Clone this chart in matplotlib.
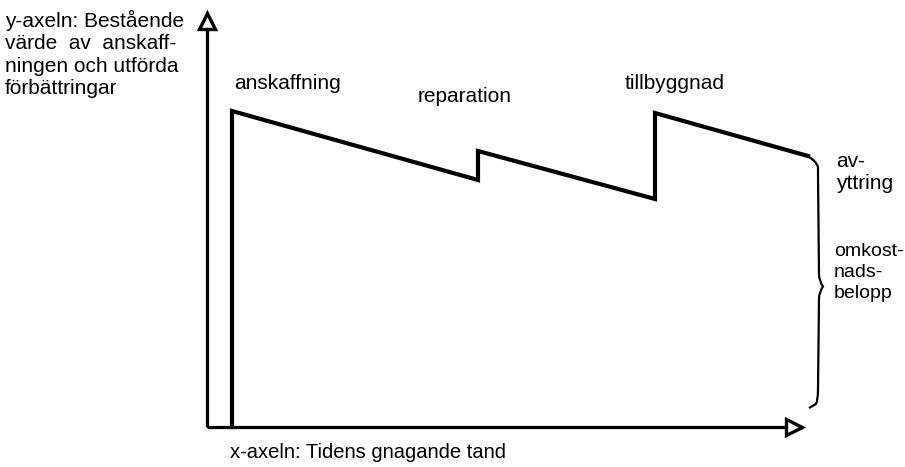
import numpy as np
import matplotlib.pyplot as plt
from matplotlib.path import Path
from matplotlib.patches import PathPatch

plt.rcParams['font.family'] = ['Liberation Sans', 'DejaVu Sans']

# Time (x) of each event and book value (y) just before / just after it
events = ["anskaffning", "reparation", "tillbyggnad", "avyttring"]
t_events = [25, 271, 448, 601]
value_before = [0, 247, 228, 271]
value_after = [316, 276, 314, 271]

y_label = "y-axeln: Bestående\nvärde  av  anskaff-\nningen och utförda\nförbättringar"
x_label = "x-axeln: Tidens gnagande tand"
label_dispose = "av-\nyttring"
label_cost = "omkost-\nnads-\nbelopp"

FS = 15

fig = plt.figure(figsize=(9.05, 4.67), dpi=100)
ax = fig.add_axes([0, 0, 1, 1])
ax.set_xlim(-207, 698)
ax.set_ylim(-40, 427)
ax.axis("off")

# axes with open arrow heads
ax.plot([0, 0], [0, 397], color="black", lw=2.3, solid_capstyle="butt")
ax.plot([0], [406], marker="^", ms=11.5, mfc="white", mec="black", mew=2.4)
ax.plot([0, 579], [0, 0], color="black", lw=2.3, solid_capstyle="butt")
ax.plot([587], [0], marker=">", ms=12, mfc="white", mec="black", mew=2.4)

# value line: vertical jumps at each event, straight depreciation between
xs, ys = [], []
for t, vb, va in zip(t_events, value_before, value_after):
    xs += [t, t]
    ys += [vb, va]
ax.plot(xs[:-1], ys[:-1], color="black", lw=3.0, solid_joinstyle="miter")

# event labels
ax.text(t_events[0] + 2, 338, events[0], fontsize=FS, va="baseline")
ax.text(t_events[1] - 60, 325, "reparation", fontsize=FS, va="baseline")
ax.text(t_events[2] - 30, 338, events[2], fontsize=FS, va="baseline")

# curly brace for the cost amount
bx = t_events[3] + 9
top, bot = value_after[3] - 1, 19
mid = (top + bot) / 2 - 4
verts = [
    (bx - 8, top), (bx - 1, top - 4), (bx + 1, top - 10), (bx + 1, top - 18),
    (bx + 2, mid + 12), (bx + 2, mid + 6), (bx + 6, mid),
    (bx + 2, mid - 6), (bx + 2, mid - 12), (bx + 1, bot + 18),
    (bx + 1, bot + 8), (bx - 1, bot + 4), (bx - 8, bot),
]
codes = [Path.MOVETO, Path.CURVE3, Path.CURVE3, Path.LINETO,
         Path.LINETO, Path.CURVE3, Path.CURVE3,
         Path.CURVE3, Path.CURVE3, Path.LINETO,
         Path.CURVE3, Path.CURVE3, Path.LINETO]
ax.add_patch(PathPatch(Path(verts, codes), fill=False, lw=1.6, color="black"))

# side texts
ax.text(629, 275, label_dispose, fontsize=FS, va="top", linespacing=1.22)
ax.text(627, 184, label_cost, fontsize=14, va="top", linespacing=1.3)
ax.text(-202, 417, y_label, fontsize=FS, va="top", linespacing=1.22)
ax.text(23, -31, x_label, fontsize=14.5, va="baseline")

fig.savefig("out.png", dpi=100)
